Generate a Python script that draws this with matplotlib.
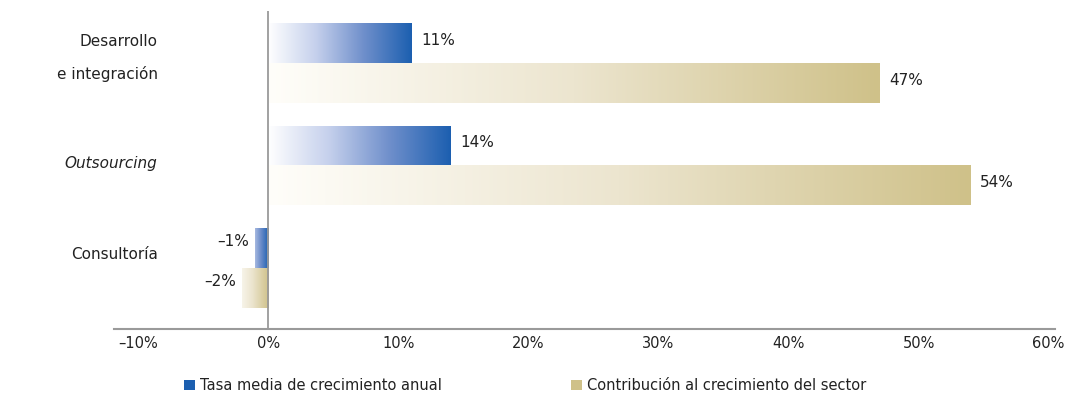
import numpy as np
import matplotlib.pyplot as plt
from matplotlib.colors import LinearSegmentedColormap
from matplotlib.patches import Patch

categories = ['Desarrollo\ne integración', 'Outsourcing', 'Consultoría']
tasa_media = [11, 14, -1]          # Tasa media de crecimiento anual (%)
contribucion = [47, 54, -2]        # Contribución al crecimiento del sector (%)
xticks = [-10, 0, 10, 20, 30, 40, 50, 60]
legend_labels = ['Tasa media de crecimiento anual', 'Contribución al crecimiento del sector']

BLUE = '#1c5fb0'
TAN = '#cfc189'
GREY = '#9a9a9a'
TXT = '#222222'

plt.rcParams['font.family'] = ['DejaVu Sans']

fig = plt.figure(figsize=(10.72, 3.99), dpi=100)
ax = fig.add_axes([0.1063, 0.1754, 0.878, 0.7970])

y = np.arange(len(categories))
h = 0.39

blue_cmap = LinearSegmentedColormap.from_list('blue_grad', ['#ffffff', '#c5d0ec', '#6f8fcb', BLUE])
tan_cmap = LinearSegmentedColormap.from_list('tan_grad', ['#fffefa', '#ece5cf', TAN])

bars_a = ax.barh(y - h / 2, tasa_media, height=h, color='none', edgecolor='none')
bars_b = ax.barh(y + h / 2, contribucion, height=h, color='none', edgecolor='none')

grad = np.linspace(0, 1, 256).reshape(1, -1)


def fill_gradient(bars, cmap, neg_start):
    # paint each bar with a horizontal light-to-dark ramp
    for b in bars:
        x0, yb = b.get_x(), b.get_y()
        w, hh = b.get_width(), b.get_height()
        left, right = min(x0, x0 + w), max(x0, x0 + w)
        g = grad if w >= 0 else neg_start + (1 - neg_start) * grad
        ax.imshow(g, extent=[left, right, yb + hh, yb], aspect='auto',
                  cmap=cmap, vmin=0, vmax=1, zorder=2, interpolation='bilinear')


fill_gradient(bars_a, blue_cmap, 0.45)
fill_gradient(bars_b, tan_cmap, 0.2)

# value labels
for bars, vals in ((bars_a, tasa_media), (bars_b, contribucion)):
    for b, v in zip(bars, vals):
        yc = b.get_y() + b.get_height() / 2
        txt = f'{v}%'.replace('-', '\u2013')
        if v >= 0:
            ax.annotate(txt, (v, yc), xytext=(7, 2), textcoords='offset points',
                        ha='left', va='center', fontsize=11, color=TXT)
        else:
            ax.annotate(txt, (v, yc), xytext=(-4, 5), textcoords='offset points',
                        ha='right', va='center', fontsize=11, color=TXT)

# category labels
label_dy = [-0.05, -0.02, -0.13]
for i, (cat, dy) in enumerate(zip(categories, label_dy)):
    style = 'italic' if cat == 'Outsourcing' else 'normal'
    ax.text(-8.5, i + dy, cat, ha='right', va='center', fontsize=11,
            style=style, color=TXT, linespacing=2.3)

ax.axvline(0, color=GREY, lw=1.3, zorder=3)

ax.set_xlim(-11.85, 60.5)
ax.set_ylim(2.595, -0.507)
ax.set_xticks(xticks)
ax.set_xticklabels([f'{t}%'.replace('-', '\u2013') for t in xticks], fontsize=10.5, color=TXT)
ax.tick_params(axis='x', length=0, pad=5)
ax.set_yticks([])
for s in ('left', 'right', 'top'):
    ax.spines[s].set_visible(False)
ax.spines['bottom'].set_color(GREY)
ax.spines['bottom'].set_linewidth(1.5)

# legend: one entry per series, each anchored at its own left edge
for color, label, x_left in ((BLUE, legend_labels[0], 0.172), (TAN, legend_labels[1], 0.533)):
    lg = fig.legend([Patch(facecolor=color, edgecolor='none')], [label], loc='center left',
                    bbox_to_anchor=(x_left, 0.033), frameon=False, fontsize=10.5,
                    handlelength=0.7, handleheight=0.7, handletextpad=0.35,
                    borderpad=0, borderaxespad=0, labelcolor=TXT)

fig.savefig('out.png', dpi=100)
